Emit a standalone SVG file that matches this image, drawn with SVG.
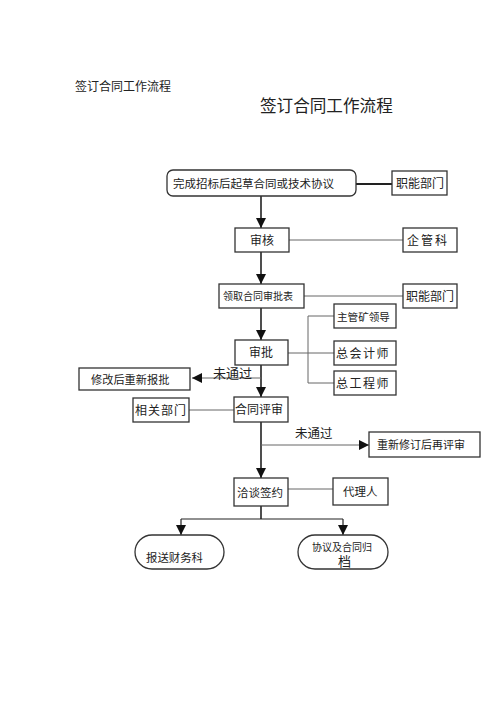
<svg xmlns="http://www.w3.org/2000/svg" width="500" height="708" viewBox="0 0 500 708">
<defs>
<marker id="arr" viewBox="0 0 10 10" refX="10" refY="5" markerWidth="10" markerHeight="10" markerUnits="userSpaceOnUse" orient="auto">
<path d="M0,0 L10,5 L0,10 z" fill="#111"/>
</marker>
</defs>
<style>
.box{fill:#fff;stroke:#333;stroke-width:1.3}
.t{font-family:"Liberation Serif","Noto Sans CJK SC",serif;fill:#222;font-size:12px}
.main{stroke:#222;stroke-width:1.6;fill:none}
.side{stroke:#666;stroke-width:1;fill:none}
</style>
<rect width="500" height="708" fill="#fff"/>
<text class="t" x="75" y="91" font-size="12">签订合同工作流程</text>
<text class="t" x="260" y="112" style="font-size:16.6px">签订合同工作流程</text>

<g id="connectors">
<line class="main" x1="261" y1="196" x2="261" y2="228" marker-end="url(#arr)"/>
<line class="main" x1="261" y1="252" x2="261" y2="284" marker-end="url(#arr)"/>
<line class="main" x1="261" y1="308" x2="261" y2="340" marker-end="url(#arr)"/>
<line class="main" x1="261" y1="365" x2="261" y2="397" marker-end="url(#arr)"/>
<line class="main" x1="261" y1="422" x2="261" y2="478" marker-end="url(#arr)"/>
<line class="main" x1="261" y1="506" x2="261" y2="519"/>
<line class="main" x1="181" y1="519" x2="343" y2="519" style="stroke-width:1.2"/>
<line class="main" x1="181" y1="519" x2="181" y2="535" marker-end="url(#arr)" style="stroke-width:1.2"/>
<line class="main" x1="343" y1="519" x2="343" y2="535" marker-end="url(#arr)" style="stroke-width:1.2"/>
<line class="main" x1="356" y1="184" x2="392" y2="184" style="stroke-width:1.8"/>
<line class="side" x1="289" y1="240" x2="403" y2="240"/>
<line class="side" x1="304" y1="296" x2="403" y2="296"/>
<line class="side" x1="288" y1="353" x2="308" y2="353"/>
<polyline class="side" points="334,316 308,316 308,383 334,383"/>
<line class="side" x1="308" y1="353" x2="334" y2="353"/>
<line class="side" x1="261" y1="378" x2="192" y2="378" marker-end="url(#arr)"/>
<line class="side" x1="189" y1="410" x2="234" y2="410"/>
<line class="side" x1="261" y1="445" x2="369" y2="445" marker-end="url(#arr)"/>
<line class="side" x1="288" y1="489" x2="333" y2="489"/>
</g>

<g id="n_start"><rect class="box" x="167" y="170" width="189" height="26" rx="6"/><text class="t" x="173" y="188" style="font-size:11.5px">完成招标后起草合同或技术协议</text></g>
<g id="n_zhineng1"><rect class="box" x="392" y="171" width="55" height="24"/><text class="t" x="396" y="188">职能部门</text></g>
<g id="n_shenhe"><rect class="box" x="235" y="228" width="54" height="24"/><text class="t" x="250" y="245">审核</text></g>
<g id="n_qiguan"><rect class="box" x="403" y="228" width="54" height="24"/><text class="t" x="407" y="245" letter-spacing="2">企管科</text></g>
<g id="n_lingqu"><rect class="box" x="219" y="284" width="85" height="24"/><text class="t" x="223" y="300" style="font-size:10px">领取合同审批表</text></g>
<g id="n_zhineng2"><rect class="box" x="403" y="284" width="54" height="24"/><text class="t" x="406" y="301">职能部门</text></g>
<g id="n_zhuguan"><rect class="box" x="334" y="304" width="62" height="24"/><text class="t" x="337" y="321" style="font-size:10.6px">主管矿领导</text></g>
<g id="n_kuaiji"><rect class="box" x="334" y="341" width="62" height="24"/><text class="t" x="336" y="358" letter-spacing="1.5">总会计师</text></g>
<g id="n_gongcheng"><rect class="box" x="334" y="371" width="62" height="24"/><text class="t" x="336" y="388" letter-spacing="1.5">总工程师</text></g>
<g id="n_shenpi"><rect class="box" x="235" y="340" width="53" height="25"/><text class="t" x="249" y="357">审批</text></g>
<g id="n_xiugai"><rect class="box" x="79" y="368" width="111" height="22"/><text class="t" x="91" y="384" style="font-size:11.2px">修改后重新报批</text></g>
<text class="t" x="213" y="378" style="font-size:13px">未通过</text>
<g id="n_xiangguan"><rect class="box" x="133" y="398" width="56" height="24"/><text class="t" x="135" y="415" letter-spacing="1">相关部门</text></g>
<g id="n_pingshen"><rect class="box" x="234" y="397" width="54" height="25"/><text class="t" x="235" y="414">合同评审</text></g>
<text class="t" x="295" y="438" style="font-size:12.5px">未通过</text>
<g id="n_chongxin"><rect class="box" x="369" y="432" width="111" height="25"/><text class="t" x="377" y="449" style="font-size:11px">重新修订后再评审</text></g>
<g id="n_qiatan"><rect class="box" x="234" y="478" width="54" height="28"/><text class="t" x="237" y="497" style="font-size:11.5px">洽谈签约</text></g>
<g id="n_daili"><rect class="box" x="333" y="478" width="55" height="27"/><text class="t" x="343" y="496" style="font-size:11.5px">代理人</text></g>
<g id="n_caiwu"><rect class="box" x="135" y="535" width="89" height="34" rx="17"/><text class="t" x="146" y="562" style="font-size:11.4px">报送财务科</text></g>
<g id="n_guidang"><rect class="box" x="298" y="535" width="90" height="34" rx="17"/><text class="t" x="312" y="551" style="font-size:10px">协议及合同归</text><text class="t" x="338" y="566" style="font-size:13px">档</text></g>
</svg>
